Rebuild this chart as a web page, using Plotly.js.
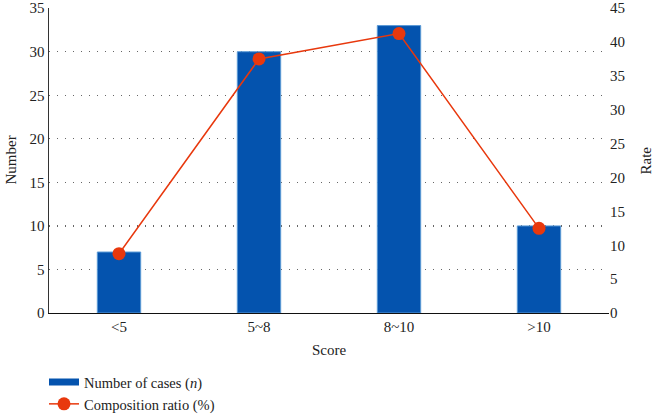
<!DOCTYPE html>
<html>
<head>
<meta charset="utf-8">
<script src="https://cdn.plot.ly/plotly-3.0.1.min.js"></script>
<style>html,body{margin:0;padding:0;background:#fff}#chart{width:654px;height:416px}</style>
</head>
<body>
<div id="chart"></div>
<script>
const categories = ['<5', '5~8', '8~10', '>10'];
const cases = [7, 30, 33, 10];
const ratio = [8.75, 37.5, 41.25, 12.5];
const leftTicks = [0, 5, 10, 15, 20, 25, 30, 35];
const rightTicks = [0, 5, 10, 15, 20, 25, 30, 35, 40, 45];

const font = {family: 'Liberation Serif, Times New Roman, serif', size: 15, color: '#222'};
const legendFont = {family: 'Liberation Serif, Times New Roman, serif', size: 14.5, color: '#222'};
const blue = '#0453AE';
const red = '#E8380D';

const traces = [
  {type: 'bar', x: categories, y: cases, width: 0.31, showlegend: false,
   marker: {color: blue, line: {color: '#5b9ad6', width: 1}}, hoverinfo: 'skip'},
  {type: 'scatter', mode: 'lines', x: [null], y: [null], name: 'Number of cases (<i>n</i>)',
   line: {color: blue, width: 7}},
  {type: 'scatter', mode: 'lines+markers', x: categories, y: ratio, yaxis: 'y2',
   name: 'Composition ratio (%)', line: {color: red, width: 1.5},
   marker: {color: red, size: 13}}
];

const layout = {
  width: 654, height: 416,
  margin: {l: 49, r: 45, t: 8, b: 103, autoexpand: false},
  paper_bgcolor: '#fff', plot_bgcolor: '#fff',
  font: font,
  xaxis: {type: 'category', showline: true, linecolor: '#111', linewidth: 1.2,
          ticks: '', tickfont: font, showgrid: false, automargin: false},
  yaxis: {range: [0, 35.02], tickvals: leftTicks, showline: true, linecolor: '#333', linewidth: 1.5,
          ticks: '', tickfont: font, showgrid: true, gridcolor: '#666', griddash: '1px,7px', gridwidth: 1.2,
          ticklabeloverflow: 'allow', zeroline: false, automargin: false},
  yaxis2: {range: [0, 45.02], tickvals: rightTicks, overlaying: 'y', side: 'right', showline: false,
           ticks: '', tickfont: font, showgrid: false, zeroline: false, automargin: false,
           ticklabeloverflow: 'allow'},
  annotations: [
    {text: 'Score', xref: 'paper', yref: 'paper', x: 0.5, y: 0, yshift: -37, xanchor: 'center', yanchor: 'middle',
     showarrow: false, font: font},
    {text: 'Number', xref: 'paper', x: 0, xshift: -39, yref: 'paper', y: 0.5, textangle: -90,
     xanchor: 'center', yanchor: 'middle', showarrow: false, font: font},
    {text: 'Rate', xref: 'paper', x: 1, xshift: 36, yref: 'paper', y: 0.5, textangle: -90,
     xanchor: 'center', yanchor: 'middle', showarrow: false, font: font}
  ],
  legend: {x: 44 / 654, xref: 'container', xanchor: 'left', y: 0.12, yref: 'container', yanchor: 'top',
           orientation: 'v', font: legendFont, bgcolor: 'rgba(0,0,0,0)', tracegroupgap: 0},
  showlegend: true
};

Plotly.newPlot('chart', traces, layout, {displayModeBar: false, staticPlot: true});
</script>
</body>
</html>
